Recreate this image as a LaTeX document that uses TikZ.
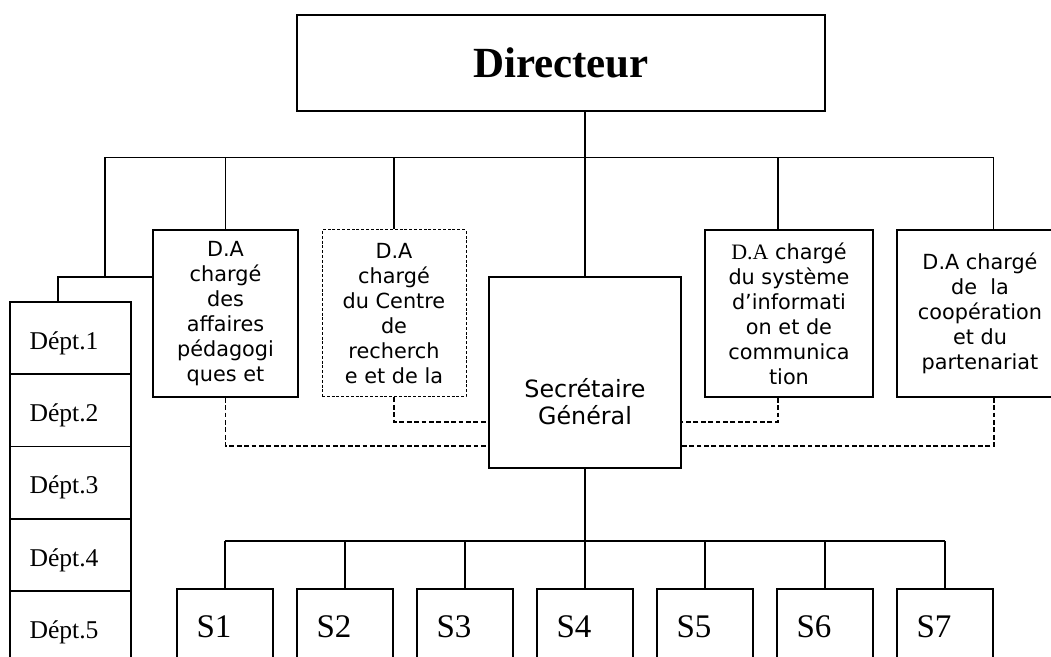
\documentclass[tikz,border=0pt]{standalone}
\usepackage{fontspec}
\setmainfont{Liberation Serif}
\newfontfamily\dejavu{DejaVu Sans}
\usetikzlibrary{positioning,calc}
\definecolor{Ink}{HTML}{000000}

\begin{document}
\begin{tikzpicture}[x=0.5pt,y=-0.5pt,
  unit/.style={draw=Ink,line width=0.85pt,rectangle,inner sep=0pt},
  dabox/.style={unit,minimum width=72.5pt,minimum height=83.5pt,align=center,font=\dejavu\fontsize{10.4}{12.5}\selectfont},
  deptbox/.style={unit,minimum width=60.5pt,minimum height=36.15pt},
  sbox/.style={unit,minimum width=48pt,minimum height=45pt},
  boxtext/.style={font=\fontsize{12.8}{15}\selectfont,anchor=base west,inner sep=0pt},
  link/.style={draw=Ink,line width=0.7pt},
  dotlink/.style={draw=Ink,line width=0.9pt,dash pattern=on 2.4pt off 1.3pt}]
\useasboundingbox (0,0) rectangle (1051,657);
\fill[white] (0,0) rectangle (1051,657);
\clip (0,0) rectangle (1051,657);
% direction
\node[unit,minimum width=264pt,minimum height=48pt,font=\bfseries\fontsize{21.5}{24}\selectfont] (dir) at (561,63) {Directeur};
\node[dabox] (ped) at (225.5,313.5) {D.A\\chargé\\des\\affaires\\pédagogi\\ques et};
\node[dabox,line width=0.5pt,dash pattern=on 1.5pt off 0.9pt,minimum width=72pt] (rech) at (394,313.5) {D.A\\chargé\\du Centre\\de\\recherch\\e et de la};
\node[unit,minimum width=96pt,minimum height=95.5pt,label={[font=\dejavu\fontsize{11.9}{13.5}\selectfont,align=center,yshift=-14.5pt]center:Secrétaire\\Général}] (sg) at (585,372.5) {};
\node[dabox,minimum width=84pt] (sys) at (789,313.5) {{\rmfamily\fontsize{11}{12.5}\selectfont D.A} chargé\\du système\\d’informati\\on et de\\communica\\tion};
\node[dabox,minimum width=83pt] (coop) at (980,313.5) {D.A chargé\\de~~la\\coopération\\et du\\partenariat};
% departements et services
\foreach \i in {1,...,5}{
  \node[deptbox] (dept\i) at (70.5,{302+72.3*(\i-0.5)}) {};
  \node[boxtext] (dept\i txt) at ([xshift=10pt,yshift=-24pt]dept\i.north west) {Dépt.\i};
}
\foreach \i in {1,...,7}{
  \node[sbox] (s\i) at ({225+120*(\i-1)},634) {};
  \node[boxtext,font=\fontsize{16.5}{19}\selectfont] (s\i txt) at ([xshift=10pt,yshift=-24.5pt]s\i.north west) {S\i};
}
% liaisons
\coordinate (busL) at (105,157.5);
\coordinate (busR) at (993.5,157.5);
\coordinate (jn) at (105,277);
\coordinate (bus2) at (585,541);
\draw[link] (dir.south -| sg.north) -- (sg.north);
\draw[link] (busL) -- (busR) -- (busR |- coop.north);
\draw[link] (busL) -- (jn);
\draw[link] (ped.west |- jn) -| ([xshift=-6.25pt]dept1.north);
\draw[link] (ped.north |- busL) -- (ped.north);
\draw[link] (rech.north |- busL) -- (rech.north);
\draw[link] ([xshift=-5.5pt]sys.north |- busL) -- ([xshift=-5.5pt]sys.north);
\draw[dotlink] (ped.south) |- ([yshift=-36.6pt]sg.west);
\draw[dotlink] (rech.south) |- ([yshift=-24.6pt]sg.west);
\draw[dotlink] ([xshift=-5.5pt]sys.south) |- ([yshift=-24.6pt]sg.east);
\draw[dotlink] ([xshift=7pt]coop.south) |- ([yshift=-36.6pt]sg.east);
\draw[link] (sg.south) -- (s4.north);
\draw[link] (s1.north |- bus2) -- (s7.north |- bus2);
\foreach \i in {1,2,3,5,6,7}
  \draw[link] (s\i.north |- bus2) -- (s\i.north);
\end{tikzpicture}
\end{document}
